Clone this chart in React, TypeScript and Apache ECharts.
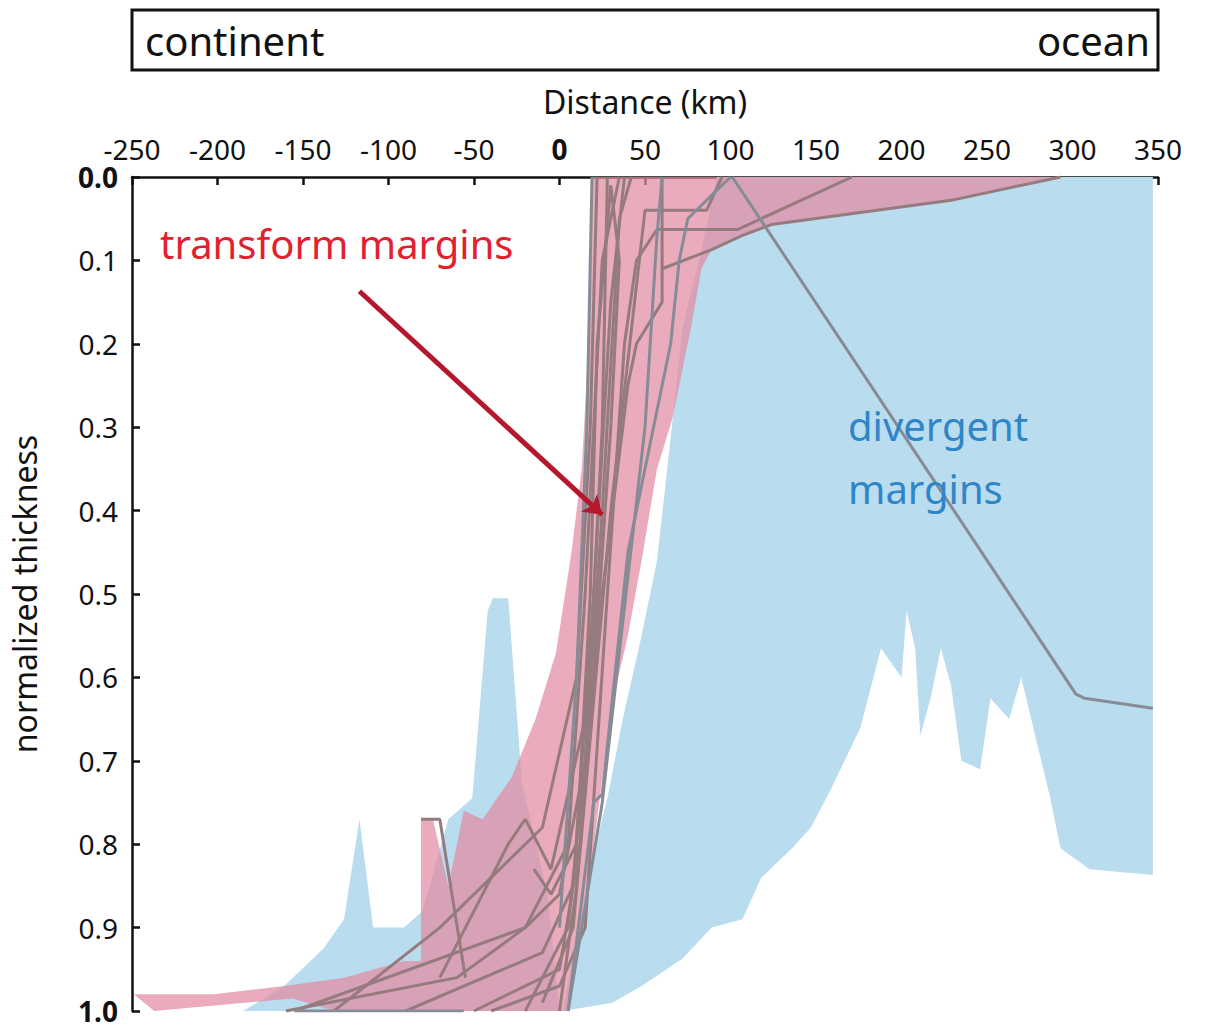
import React, { useEffect, useRef } from "react";
import * as echarts from "echarts";

const xTicks = [-250, -200, -150, -100, -50, 0, 50, 100, 150, 200, 250, 300, 350];
const yTicks = [0, 0.1, 0.2, 0.3, 0.4, 0.5, 0.6, 0.7, 0.8, 0.9, 1.0];

const blueMain: number[][] = [
  [92, 0], [347, 0], [347, 0.837], [310, 0.83], [293, 0.805], [287, 0.745], [270, 0.6], [263, 0.65],
  [252, 0.625], [246, 0.71], [235, 0.7], [229, 0.61], [223, 0.565], [217, 0.625], [211, 0.67],
  [208, 0.565], [203, 0.52], [200, 0.6], [188, 0.565], [176, 0.66], [159, 0.733], [147, 0.78],
  [136, 0.805], [118, 0.84], [107, 0.89], [89, 0.9], [72, 0.937], [48, 0.97], [31, 0.99], [2, 1.0],
  [10, 0.91], [19, 0.817], [28, 0.745], [37, 0.65], [48, 0.55], [57, 0.46], [63, 0.35], [72, 0.18], [83, 0.087],
];
const blueLeft: number[][] = [
  [-185, 1.0], [-161, 0.97], [-138, 0.925], [-126, 0.89], [-117, 0.77], [-109, 0.9], [-91, 0.9],
  [-80, 0.88], [-65, 0.77], [-51, 0.745], [-42, 0.52], [-39, 0.505], [-30, 0.505], [-22, 0.725],
  [-7, 0.86], [0, 1.0],
];
const pinkArea: number[][] = [
  [19, 0], [293, 0], [229, 0.028], [124, 0.057], [107, 0.07], [89, 0.087], [83, 0.11], [77, 0.18],
  [66, 0.29], [57, 0.35], [48, 0.46], [40, 0.55], [31, 0.63], [25, 0.72], [19, 0.82], [10, 0.94], [5, 1.0],
  [-132, 1.0], [-156, 0.985], [-237, 1.0], [-249, 0.98], [-202, 0.98], [-161, 0.97], [-126, 0.96],
  [-91, 0.94], [-81, 0.94], [-81, 0.77], [-74, 0.77], [-65, 0.85], [-56, 0.76], [-45, 0.77],
  [-28, 0.72], [-14, 0.65], [-2, 0.57], [7, 0.45], [13, 0.35], [17, 0.2], [19, 0],
];

const brownLines: number[][][] = [
  [[-132, 1.0], [-70, 0.9], [-10, 0.78], [10, 0.6], [18, 0.3], [22, 0]],
  [[-155, 1.0], [-20, 0.9], [5, 0.8], [15, 0.5], [25, 0.1], [35, 0]],
  [[-90, 1.0], [-10, 0.93], [8, 0.85], [20, 0.5], [30, 0.15], [38, 0]],
  [[-50, 1.0], [0, 0.95], [12, 0.8], [25, 0.4], [35, 0.05], [42, 0]],
  [[-20, 1.0], [5, 0.9], [20, 0.6], [30, 0.3], [35, 0.1], [30, 0.01], [22, 0.2], [18, 0.5], [10, 0.8], [-5, 0.86], [-15, 0.83]],
  [[0, 1.0], [10, 0.85], [25, 0.5], [40, 0.25], [45, 0.2], [60, 0.15], [60, 0]],
  [[-81, 0.77], [-70, 0.77], [-55, 0.96]],
  [[-70, 0.96], [-30, 0.8], [-20, 0.77], [-5, 0.83], [15, 0.65]],
  [[-40, 1.0], [0, 0.97], [15, 0.9], [28, 0.5], [38, 0.2], [45, 0.1], [57, 0.063], [104, 0.063], [171, 0]],
  [[-10, 0.99], [8, 0.9], [30, 0.4], [50, 0.04], [86, 0.04], [95, 0]],
  [[60, 0.11], [89, 0.087], [107, 0.07], [124, 0.057], [229, 0.028], [293, 0]],
  [[-160, 1.0], [-60, 0.96], [-20, 0.9], [0, 0.86], [15, 0.7], [25, 0.3], [28, 0]],
];
const grayLines: number[][][] = [
  [[-155, 1.0], [-56, 1.0]],
  [[5, 1.0], [20, 0.75], [25, 0.74], [40, 0.45], [55, 0.3], [65, 0.2], [70, 0.1], [75, 0.05], [90, 0.02], [100, 0]],
  [[60, 0], [57, 0.07], [50, 0.3], [25, 0.75], [5, 1.0]],
  [[101, 0], [302, 0.62], [307, 0.625], [347, 0.637]],
  [[19, 0], [16, 0.3], [10, 0.6], [0, 0.9]],
];
const arrow = [[-117, 0.137], [25, 0.405]];

function polygonSeries(data: number[][], color: string, z: number) {
  return {
    type: "custom",
    z,
    silent: true,
    data: data,
    renderItem: (params: any, api: any) => {
      if (params.dataIndex !== 0) return null;
      const pts = data.map((p) => api.coord(p));
      return { type: "polygon", shape: { points: pts }, style: { fill: color, stroke: "none" } };
    },
  };
}

export default function App() {
  const ref = useRef<HTMLDivElement>(null);
  useEffect(() => {
    document.body.style.margin = "0";
    const chart = echarts.init(ref.current!, null, { renderer: "svg" });
    const font = "Noto Sans";
    const series: any[] = [
      polygonSeries(blueMain, "#b9dcef", 1),
      polygonSeries(blueLeft, "#b9dcef", 1),
      polygonSeries(pinkArea, "rgba(226,140,162,0.72)", 2),
      ...brownLines.map((d) => ({
        type: "line", data: d, symbol: "none", z: 3, silent: true,
        lineStyle: { color: "#957b7e", width: 3 },
      })),
      ...grayLines.map((d) => ({
        type: "line", data: d, symbol: "none", z: 3, silent: true,
        lineStyle: { color: "#868b95", width: 3 },
      })),
      {
        type: "line", data: [], z: 5,
        markLine: {
          silent: true, symbol: ["none", "arrow"], symbolSize: 18, label: { show: false },
          lineStyle: { color: "#b5182d", width: 5, type: "solid" },
          data: [[{ coord: arrow[0] }, { coord: arrow[1] }]],
        },
      },
    ];
    chart.setOption({
      animation: false,
      textStyle: { fontFamily: font },
      grid: { left: 128, right: 54, top: 177, bottom: 19 },
      xAxis: {
        type: "value", position: "top", min: xTicks[0], max: xTicks[xTicks.length - 1], interval: 50,
        name: "Distance (km)", nameLocation: "middle", nameGap: 60,
        nameTextStyle: { fontSize: 32, color: "#111", fontFamily: font },
        axisLine: { onZero: false, lineStyle: { color: "#111", width: 2.5 } },
        axisTick: { inside: true, length: 8, lineStyle: { color: "#111", width: 2.5 } },
        splitLine: { show: false },
        axisLabel: {
          fontSize: 28, color: "#111", margin: 14,
          formatter: (v: number) => (v === 0 ? "{b|0}" : String(v)),
          rich: { b: { fontWeight: "bold", fontSize: 28, color: "#111" } },
        },
      },
      yAxis: {
        type: "value", inverse: true, min: yTicks[0], max: yTicks[yTicks.length - 1], interval: 0.1,
        name: "normalized thickness", nameLocation: "middle", nameGap: 92, nameRotate: 90,
        nameTextStyle: { fontSize: 32, color: "#111", fontFamily: font },
        axisLine: { onZero: false, lineStyle: { color: "#111", width: 2.5 } },
        axisTick: { inside: true, length: 8, lineStyle: { color: "#111", width: 2.5 } },
        splitLine: { show: false },
        axisLabel: {
          fontSize: 28, color: "#111", margin: 14,
          formatter: (v: number) => {
            const s = v.toFixed(1);
            return v === 0 || v === 1 ? "{b|" + s + "}" : s;
          },
          rich: { b: { fontWeight: "bold", fontSize: 28, color: "#111" } },
        },
      },
      graphic: [
        { type: "rect", shape: { x: 132, y: 10, width: 1026, height: 60 }, style: { fill: "#fff", stroke: "#111", lineWidth: 3 } },
        { type: "text", x: 145, y: 40, style: { text: "continent", fontSize: 40, fontFamily: font, fill: "#111", verticalAlign: "middle" } },
        { type: "text", x: 1150, y: 40, style: { text: "ocean", fontSize: 40, fontFamily: font, fill: "#111", align: "right", verticalAlign: "middle" } },
        { type: "text", x: 160, y: 243, z: 10, style: { text: "transform margins", fontSize: 40, fontFamily: font, fill: "#e3202f", verticalAlign: "middle" } },
        { type: "text", x: 848, y: 425, z: 10, style: { text: "divergent", fontSize: 40, fontFamily: font, fill: "#2e86c8", verticalAlign: "middle" } },
        { type: "text", x: 848, y: 488, z: 10, style: { text: "margins", fontSize: 40, fontFamily: font, fill: "#2e86c8", verticalAlign: "middle" } },
      ],
      series,
    });
    return () => chart.dispose();
  }, []);
  return <div ref={ref} style={{ width: 1212, height: 1030 }} />;
}
